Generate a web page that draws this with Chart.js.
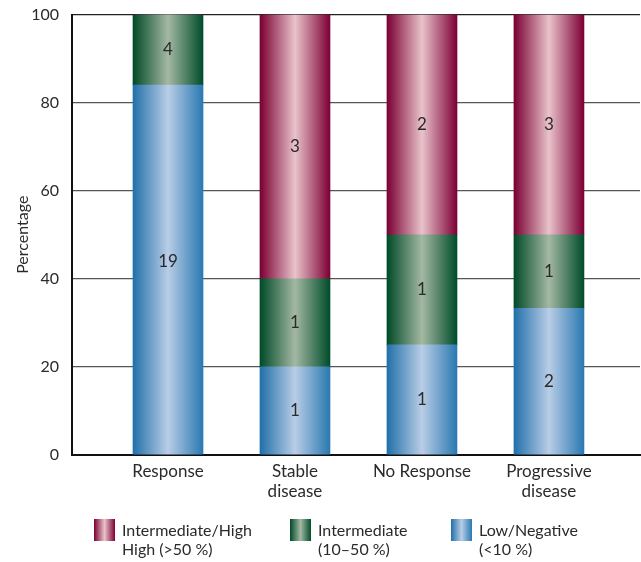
<!DOCTYPE html>
<html>
<head>
<meta charset="utf-8">
<script src="https://cdn.jsdelivr.net/npm/chart.js@4.4.0/dist/chart.umd.min.js"></script>
<style>
  body { margin: 0; background: #fff; }
  #wrap { position: relative; width: 641px; height: 562px; }
  #legend { position: absolute; top: 519px; left: 0; width: 641px; font-family: Lato; font-size: 16px; color: #2a2a2a; }
  .item { position: absolute; top: 0; }
  .box { position: absolute; left: 0; top: 0; width: 21px; height: 22px; }
  .txt { position: absolute; left: 28px; top: 1px; line-height: 19px; white-space: nowrap; }
</style>
</head>
<body>
<div id="wrap">
  <canvas id="chart" width="641" height="562"></canvas>
  <div id="legend"></div>
</div>
<script>
const categories = [["Response"], ["Stable", "disease"], ["No Response"], ["Progressive", "disease"]];
const lowPct = [84, 20, 25, 33.3];
const midPct = [16, 20, 25, 16.7];
const highPct = [0, 60, 50, 50];
const lowCount = [19, 1, 1, 2];
const midCount = [4, 1, 1, 1];
const highCount = [null, 3, 2, 3];
const yTicks = [0, 20, 40, 60, 80, 100];
const legendLabels = [
  ["Intermediate/High", "High (>50 %)"],
  ["Intermediate", "(10\u201350 %)"],
  ["Low/Negative", "(<10 %)"]
];
// the "19" sits a little above the middle of its segment in the original
const lowLabelAt = [44, null, null, null];

const colors = {
  high: ["#7a0032", "#e9c3cb", "#7d0035"],
  mid: ["#004a28", "#a4b8a3", "#004d2b"],
  low: ["#2170aa", "#b9cde6", "#2a79b1"]
};
const BAR = 70;
const TEXT = "#2a2a2a";

function barGradient(stops) {
  return (c) => {
    const chart = c.chart;
    if (!chart.chartArea) return stops[0];
    const x = chart.scales.x.getPixelForValue(c.dataIndex);
    const g = chart.ctx.createLinearGradient(x - BAR / 2, 0, x + BAR / 2, 0);
    g.addColorStop(0, stops[0]);
    g.addColorStop(0.5, stops[1]);
    g.addColorStop(1, stops[2]);
    return g;
  };
}

const toPoints = (arr) => arr.map((v, i) => ({ x: i, y: v }));

const countLabels = {
  id: "countLabels",
  afterDatasetsDraw(chart) {
    const ctx = chart.ctx;
    const counts = [lowCount, midCount, highCount];
    ctx.save();
    ctx.font = "17px Lato";
    ctx.fillStyle = TEXT;
    ctx.textAlign = "center";
    ctx.textBaseline = "middle";
    counts.forEach((arr, di) => {
      chart.getDatasetMeta(di).data.forEach((bar, i) => {
        if (arr[i] == null) return;
        const p = bar.getProps(["x", "y", "base"], true);
        let y = (p.y + p.base) / 2;
        if (di === 0 && lowLabelAt[i] != null) y = chart.scales.y.getPixelForValue(lowLabelAt[i]);
        ctx.fillText(arr[i], p.x, y);
      });
    });
    ctx.restore();
  }
};

new Chart(document.getElementById("chart"), {
  type: "bar",
  data: {
    datasets: [
      { label: "Low/Negative (<10 %)", data: toPoints(lowPct), backgroundColor: barGradient(colors.low) },
      { label: "Intermediate (10–50 %)", data: toPoints(midPct), backgroundColor: barGradient(colors.mid) },
      { label: "Intermediate/High High (>50 %)", data: toPoints(highPct), backgroundColor: barGradient(colors.high) }
    ]
  },
  options: {
    responsive: false,
    animation: false,
    barThickness: BAR,
    layout: { padding: { top: 0, left: 13, right: 1, bottom: 53 } },
    plugins: { legend: { display: false }, tooltip: { enabled: false } },
    scales: {
      x: {
        type: "linear",
        stacked: true,
        offset: false,
        min: -0.756,
        max: 3.717,
        afterBuildTicks: (axis) => { axis.ticks = categories.map((c, i) => ({ value: i })); },
        ticks: {
          callback: (v) => categories[v],
          font: { family: "Lato", size: 17, lineHeight: 1.18 },
          color: TEXT,
          padding: 7,
          maxRotation: 0,
          autoSkip: false
        },
        grid: { display: false, drawTicks: false },
        border: { display: true, color: "#111", width: 2 }
      },
      y: {
        stacked: true,
        min: 0,
        max: 100,
        afterBuildTicks: (axis) => { axis.ticks = yTicks.map((v) => ({ value: v })); },
        afterFit: (axis) => { axis.width = 59; },
        ticks: { font: { family: "Lato", size: 16, lineHeight: 0.2 }, color: TEXT, padding: 13 },
        grid: {
          drawTicks: false,
          color: (c) => (c.tick && c.tick.value === 100 ? "#222" : "#555"),
          lineWidth: 1.2
        },
        border: { display: true, color: "#111", width: 2 },
        title: { display: true, text: "Percentage", font: { family: "Lato", size: 16 }, color: TEXT, padding: { top: 0, bottom: 0 } }
      }
    }
  },
  plugins: [countLabels]
});

const legendEl = document.getElementById("legend");
const legendX = [94, 290, 451];
const legendColors = [colors.high, colors.mid, colors.low];
legendLabels.forEach((lines, i) => {
  const item = document.createElement("div");
  item.className = "item";
  item.style.left = legendX[i] + "px";
  const box = document.createElement("div");
  box.className = "box";
  const c = legendColors[i];
  box.style.background = `linear-gradient(to right, ${c[0]}, ${c[1]}, ${c[2]})`;
  const txt = document.createElement("div");
  txt.className = "txt";
  txt.innerHTML = lines.map((l) => l.replace("<", "&lt;").replace(">", "&gt;")).join("<br>");
  item.appendChild(box);
  item.appendChild(txt);
  legendEl.appendChild(item);
});
</script>
</body>
</html>
